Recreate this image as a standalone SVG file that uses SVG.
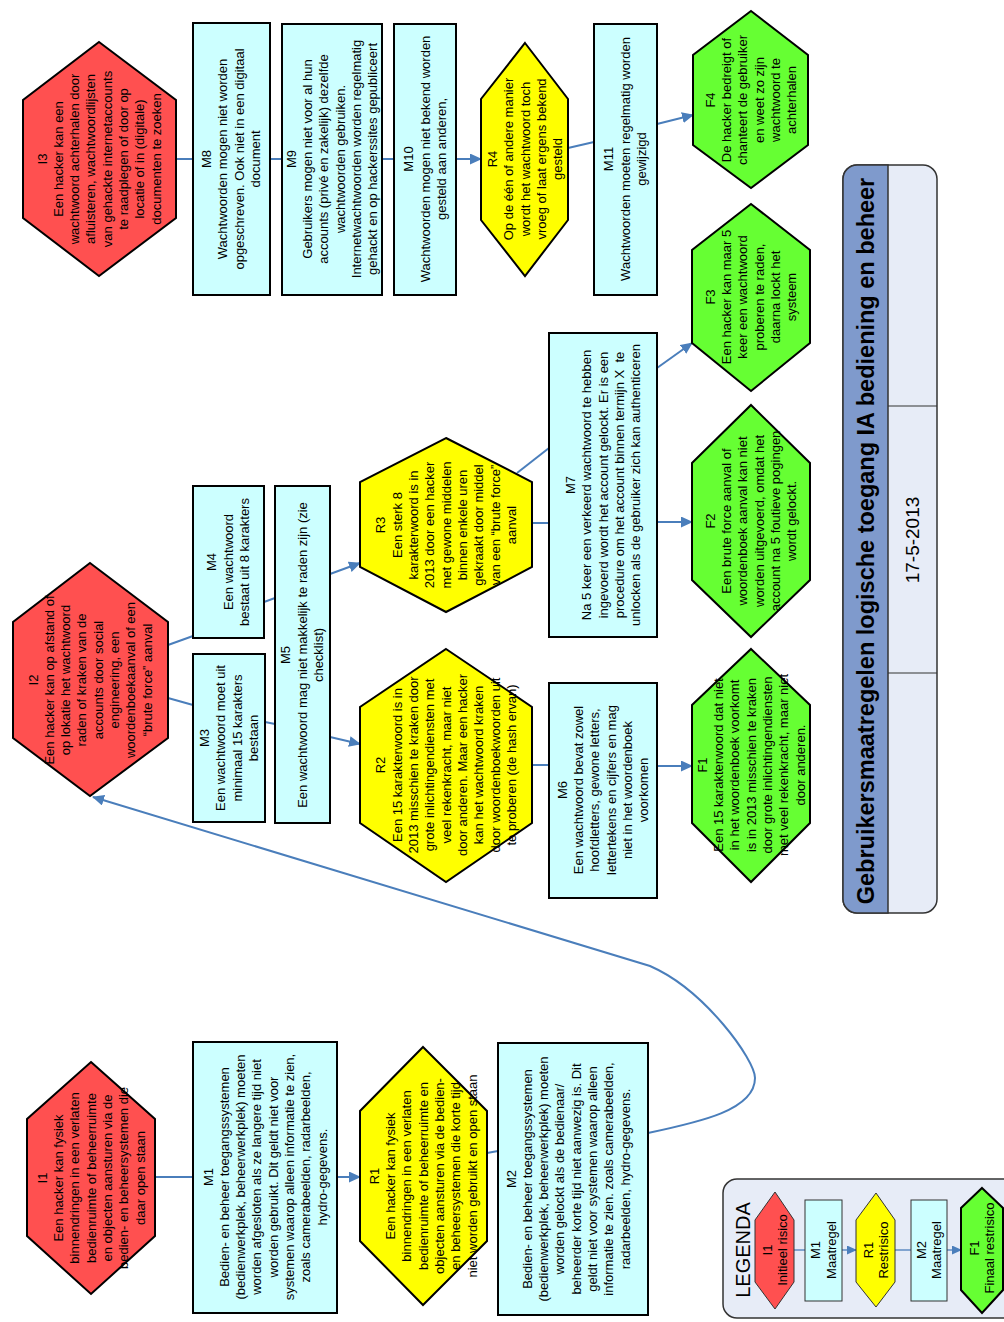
<svg xmlns="http://www.w3.org/2000/svg" width="1004" height="1322" viewBox="0 0 1004 1322">
  <defs>
    <marker id="arr" viewBox="0 0 12 11" refX="11" refY="5.5" markerWidth="12" markerHeight="11" markerUnits="userSpaceOnUse" orient="auto">
      <path d="M0,0 L12,5.5 L0,11 Z" fill="#4A7EBB"/>
    </marker>
    <marker id="arr-sm" viewBox="0 0 10 9" refX="9" refY="4.5" markerWidth="10" markerHeight="9" markerUnits="userSpaceOnUse" orient="auto">
      <path d="M0,0 L10,4.5 L0,9 Z" fill="#4A7EBB"/>
    </marker>
    <style>
      .box { fill: #CCFFFF; stroke: #000; stroke-width: 2; }
      .red { fill: #FF5050; stroke: #000; stroke-width: 2; }
      .yellow { fill: #FFFF00; stroke: #000; stroke-width: 2; }
      .green { fill: #66FF33; stroke: #000; stroke-width: 2; }
      .lg-box { fill: #CCFFFF; stroke: #333; stroke-width: 1; }
      .lg-red { fill: #FF5050; stroke: #333; stroke-width: 1; }
      .lg-yellow { fill: #FFFF00; stroke: #333; stroke-width: 1; }
      .lg-green { fill: #66FF33; stroke: #000; stroke-width: 2; }
      text { font-family: "Liberation Sans", Arial, sans-serif; fill: #000; text-anchor: middle; }
      .t { font-size: 13px; }
      .conn { fill: none; stroke: #4A7EBB; stroke-width: 2; }
      .conn-a { fill: none; stroke: #4A7EBB; stroke-width: 2; marker-end: url(#arr); }
      .lg-conn { fill: none; stroke: #4A7EBB; stroke-width: 1.3; }
      .lg-conn-a { fill: none; stroke: #4A7EBB; stroke-width: 1.3; marker-end: url(#arr-sm); }
    </style>
  </defs>

  <rect width="1004" height="1322" fill="#FFFFFF"/>

  <!-- title block -->
  <g id="title">
    <rect x="843" y="165" width="94" height="748" rx="14" fill="#E7ECF7" stroke="#333" stroke-width="1.5"/>
    <path d="M888,165 L857,165 A14,14 0 0 0 843,179 L843,899 A14,14 0 0 0 857,913 L888,913 Z" fill="#7F9ACC" stroke="#333" stroke-width="1.5"/>
    <line x1="888" y1="406" x2="937" y2="406" stroke="#333" stroke-width="1.2"/>
    <line x1="888" y1="673" x2="937" y2="673" stroke="#333" stroke-width="1.2"/>
    <text transform="translate(866,541) rotate(-90)" y="8.3" style="font-size:23.5px;font-weight:bold">Gebruikersmaatregelen logische toegang IA bediening en beheer</text>
    <text transform="translate(912,540) rotate(-90)" y="6.8" style="font-size:19px">17-5-2013</text>
  </g>

  <!-- connectors -->
  <g id="connectors">
    <line class="conn" x1="155" y1="1177" x2="193" y2="1177"/>
    <line class="conn-a" x1="337" y1="1177" x2="360" y2="1177"/>
    <line class="conn" x1="487" y1="1153" x2="498" y2="1151"/>
    <path class="conn-a" d="M648,1133 C700,1122 755,1110 755,1078 C755,1060 705,990 650,966 L93,797"/>
    <line class="conn" x1="168" y1="645" x2="193" y2="636"/>
    <line class="conn" x1="168" y1="698" x2="193" y2="705"/>
    <line class="conn" x1="265" y1="722" x2="275" y2="724"/>
    <line class="conn" x1="264" y1="602" x2="275" y2="598"/>
    <line class="conn-a" x1="330" y1="737" x2="360" y2="744"/>
    <line class="conn-a" x1="330" y1="574" x2="360" y2="563"/>
    <line class="conn" x1="532" y1="765" x2="549" y2="765"/>
    <line class="conn-a" x1="657" y1="766" x2="692" y2="766"/>
    <line class="conn" x1="532" y1="523" x2="549" y2="523"/>
    <line class="conn" x1="517" y1="473" x2="549" y2="448"/>
    <line class="conn-a" x1="657" y1="522" x2="692" y2="522"/>
    <line class="conn-a" x1="657" y1="368" x2="692" y2="343"/>
    <line class="conn" x1="176" y1="159" x2="193" y2="159"/>
    <line class="conn" x1="270" y1="159" x2="282" y2="159"/>
    <line class="conn" x1="382" y1="159" x2="394" y2="159"/>
    <line class="conn-a" x1="456" y1="159" x2="481" y2="159"/>
    <line class="conn" x1="568" y1="148" x2="594" y2="142"/>
    <line class="conn-a" x1="657" y1="124" x2="693" y2="115"/>
  </g>

  <!-- row 1: physical access -->
  <g id="I1">
    <polygon class="red" points="91,1062 155,1119 155,1236 91,1294 27,1236 27,1119"/>
    <text class="t" transform="translate(91,1178) rotate(-90)"><tspan x="0" y="-44.3">I1</tspan><tspan x="0" dy="16.3">Een hacker kan fysiek</tspan><tspan x="0" dy="16.3">binnendringen in een verlaten</tspan><tspan x="0" dy="16.3">bedienruimte of beheerruimte</tspan><tspan x="0" dy="16.3">en objecten aansturen via de</tspan><tspan x="0" dy="16.3">bedien- en beheersystemen die</tspan><tspan x="0" dy="16.3">daar open staan</tspan></text>
  </g>
  <g id="M1">
    <rect class="box" x="193" y="1042" width="144" height="271"/>
    <text class="t" transform="translate(265,1177) rotate(-90)"><tspan x="0" y="-52.45">M1</tspan><tspan x="0" dy="16.3">Bedien- en beheer toegangssystemen</tspan><tspan x="0" dy="16.3">(bedienwerkplek, beheerwerkplek) moeten</tspan><tspan x="0" dy="16.3">worden afgesloten als ze langere tijd niet</tspan><tspan x="0" dy="16.3">worden gebruikt. Dit geldt niet voor</tspan><tspan x="0" dy="16.3">systemen waarop alleen informatie te zien,</tspan><tspan x="0" dy="16.3">zoals camerabeelden, radarbeelden,</tspan><tspan x="0" dy="16.3">hydro-gegevens.</tspan></text>
  </g>
  <g id="R1">
    <polygon class="yellow" points="423,1047 487,1111 487,1241 423,1305 360,1241 360,1111"/>
    <text class="t" transform="translate(423,1176) rotate(-90)"><tspan x="0" y="-44.3">R1</tspan><tspan x="0" dy="16.3">Een hacker kan fysiek</tspan><tspan x="0" dy="16.3">binnendringen in een verlaten</tspan><tspan x="0" dy="16.3">bedienruimte of beheerruimte en</tspan><tspan x="0" dy="16.3">objecten aansturen via de bedien-</tspan><tspan x="0" dy="16.3">en beheersystemen die korte tijd</tspan><tspan x="0" dy="16.3">niet worden gebruikt en open staan</tspan></text>
  </g>
  <g id="M2">
    <rect class="box" x="498" y="1043" width="150" height="272"/>
    <text class="t" transform="translate(568,1179) rotate(-90)"><tspan x="0" y="-52.45">M2</tspan><tspan x="0" dy="16.3">Bedien- en beheer toegangssystemen</tspan><tspan x="0" dy="16.3">(bedienwerkplek, beheerwerkplek) moeten</tspan><tspan x="0" dy="16.3">worden gelockt als de bedienaar/</tspan><tspan x="0" dy="16.3">beheerder korte tijd niet aanwezig is. Dit</tspan><tspan x="0" dy="16.3">geldt niet voor systemen waarop alleen</tspan><tspan x="0" dy="16.3">informatie te zien. zoals camerabeelden,</tspan><tspan x="0" dy="16.3">radarbeelden, hydro-gegevens.</tspan></text>
  </g>

  <!-- row 2: guessing / cracking -->
  <g id="I2">
    <polygon class="red" points="90,563 168,622 168,738 90,796 13,738 13,622"/>
    <text class="t" transform="translate(90,680) rotate(-90)"><tspan x="0" y="-52.45">I2</tspan><tspan x="0" dy="16.3">Een hacker kan op afstand of</tspan><tspan x="0" dy="16.3">op lokatie het wachtwoord</tspan><tspan x="0" dy="16.3">raden of kraken van de</tspan><tspan x="0" dy="16.3">accounts door social</tspan><tspan x="0" dy="16.3">engineering, een</tspan><tspan x="0" dy="16.3">woordenboekaanval of een</tspan><tspan x="0" dy="16.3">“brute force” aanval</tspan></text>
  </g>
  <g id="M3">
    <rect class="box" x="193" y="654" width="72" height="168"/>
    <text class="t" transform="translate(229,738) rotate(-90)"><tspan x="0" y="-19.85">M3</tspan><tspan x="0" dy="16.3">Een wachtwoord moet uit</tspan><tspan x="0" dy="16.3">minimaal 15 karakters</tspan><tspan x="0" dy="16.3">bestaan</tspan></text>
  </g>
  <g id="M4">
    <rect class="box" x="193" y="486" width="71" height="152"/>
    <text class="t" transform="translate(228,562) rotate(-90)"><tspan x="0" y="-11.7">M4</tspan><tspan x="0" dy="16.3">Een wachtwoord</tspan><tspan x="0" dy="16.3">bestaat uit 8 karakters</tspan></text>
  </g>
  <g id="M5">
    <rect class="box" x="275" y="486" width="55" height="337"/>
    <text class="t" transform="translate(302,655) rotate(-90)"><tspan x="0" y="-11.7">M5</tspan><tspan x="0" dy="16.3">Een wachtwoord mag niet makkelijk te raden zijn (zie</tspan><tspan x="0" dy="16.3">checklist)</tspan></text>
  </g>
  <g id="R2">
    <polygon class="yellow" points="446,649 532,707 532,823 446,882 360,823 360,707"/>
    <text class="t" transform="translate(446,765) rotate(-90)"><tspan x="0" y="-60.6">R2</tspan><tspan x="0" dy="16.3">Een 15 karakterwoord is in</tspan><tspan x="0" dy="16.3">2013 misschien te kraken door</tspan><tspan x="0" dy="16.3">grote inlichtingendiensten met</tspan><tspan x="0" dy="16.3">veel rekenkracht, maar niet</tspan><tspan x="0" dy="16.3">door anderen. Maar een hacker</tspan><tspan x="0" dy="16.3">kan het wachtwoord kraken</tspan><tspan x="0" dy="16.3">door woordenboekwoorden uit</tspan><tspan x="0" dy="16.3">te proberen (de hash ervan)</tspan></text>
  </g>
  <g id="R3">
    <polygon class="yellow" points="446,438 532,482 532,567 446,612 360,567 360,482"/>
    <text class="t" transform="translate(446,525) rotate(-90)"><tspan x="0" y="-60.6">R3</tspan><tspan x="0" dy="16.3">Een sterk 8</tspan><tspan x="0" dy="16.3">karakterwoord is in</tspan><tspan x="0" dy="16.3">2013 door een hacker</tspan><tspan x="0" dy="16.3">met gewone middelen</tspan><tspan x="0" dy="16.3">binnen enkele uren</tspan><tspan x="0" dy="16.3">gekraakt door middel</tspan><tspan x="0" dy="16.3">van een “brute force”</tspan><tspan x="0" dy="16.3">aanval</tspan></text>
  </g>
  <g id="M6">
    <rect class="box" x="549" y="683" width="108" height="215"/>
    <text class="t" transform="translate(603,790) rotate(-90)"><tspan x="0" y="-36.15">M6</tspan><tspan x="0" dy="16.3">Een wachtwoord bevat zowel</tspan><tspan x="0" dy="16.3">hoofdletters, gewone letters,</tspan><tspan x="0" dy="16.3">lettertekens en cijfers en mag</tspan><tspan x="0" dy="16.3">niet in het woordenboek</tspan><tspan x="0" dy="16.3">voorkomen</tspan></text>
  </g>
  <g id="M7">
    <rect class="box" x="549" y="333" width="108" height="304"/>
    <text class="t" transform="translate(603,485) rotate(-90)"><tspan x="0" y="-28">M7</tspan><tspan x="0" dy="16.3">Na 5 keer een verkeerd wachtwoord te hebben</tspan><tspan x="0" dy="16.3">ingevoerd wordt het account gelockt. Er is een</tspan><tspan x="0" dy="16.3" xml:space="preserve">procedure om het account binnen termijn X  te</tspan><tspan x="0" dy="16.3">unlocken als de gebruiker zich kan authenticeren</tspan></text>
  </g>
  <g id="F1">
    <polygon class="green" points="751,649 810,705 810,823 751,882 692,823 692,705"/>
    <text class="t" transform="translate(751,765) rotate(-90)"><tspan x="0" y="-44.3">F1</tspan><tspan x="0" dy="16.3">Een 15 karakterwoord dat niet</tspan><tspan x="0" dy="16.3">in het woordenboek voorkomt</tspan><tspan x="0" dy="16.3">is in 2013 misschien te kraken</tspan><tspan x="0" dy="16.3">door grote inlichtingendiensten</tspan><tspan x="0" dy="16.3">met veel rekenkracht, maar niet</tspan><tspan x="0" dy="16.3">door anderen.</tspan></text>
  </g>
  <g id="F2">
    <polygon class="green" points="751,405 810,463 810,580 751,637 692,580 692,463"/>
    <text class="t" transform="translate(751,521) rotate(-90)"><tspan x="0" y="-36.15">F2</tspan><tspan x="0" dy="16.3">Een brute force aanval of</tspan><tspan x="0" dy="16.3">woordenboek aanval kan niet</tspan><tspan x="0" dy="16.3">worden uitgevoerd, omdat het</tspan><tspan x="0" dy="16.3">account na 5 foutieve pogingen</tspan><tspan x="0" dy="16.3">wordt gelockt.</tspan></text>
  </g>
  <g id="F3">
    <polygon class="green" points="751,204 810,250 810,343 751,391 692,343 692,250"/>
    <text class="t" transform="translate(751,297) rotate(-90)"><tspan x="0" y="-36.15">F3</tspan><tspan x="0" dy="16.3">Een hacker kan maar 5</tspan><tspan x="0" dy="16.3">keer een wachtwoord</tspan><tspan x="0" dy="16.3">proberen te raden,</tspan><tspan x="0" dy="16.3">daarna lockt het</tspan><tspan x="0" dy="16.3">systeem</tspan></text>
  </g>

  <!-- row 3: disclosure -->
  <g id="I3">
    <polygon class="red" points="99,42 176,100 176,218 99,276 23,218 23,100"/>
    <text class="t" transform="translate(99,159) rotate(-90)"><tspan x="0" y="-52.45">I3</tspan><tspan x="0" dy="16.3">Een hacker kan een</tspan><tspan x="0" dy="16.3">wachtwoord achterhalen door</tspan><tspan x="0" dy="16.3">afluisteren, wachtwoordlijsten</tspan><tspan x="0" dy="16.3">van gehackte internetaccounts</tspan><tspan x="0" dy="16.3">te raadplegen of door op</tspan><tspan x="0" dy="16.3">locatie of in (digitale)</tspan><tspan x="0" dy="16.3">documenten te zoeken</tspan></text>
  </g>
  <g id="M8">
    <rect class="box" x="193" y="23" width="77" height="272"/>
    <text class="t" transform="translate(231,159) rotate(-90)"><tspan x="0" y="-19.85">M8</tspan><tspan x="0" dy="16.3">Wachtwoorden mogen niet worden</tspan><tspan x="0" dy="16.3">opgeschreven. Ook niet in een digitaal</tspan><tspan x="0" dy="16.3">document</tspan></text>
  </g>
  <g id="M9">
    <rect class="box" x="282" y="24" width="100" height="271"/>
    <text class="t" transform="translate(332,159) rotate(-90)"><tspan x="0" y="-36.15">M9</tspan><tspan x="0" dy="16.3">Gebruikers mogen niet voor al hun</tspan><tspan x="0" dy="16.3">accounts (privé en zakelijk) dezelfde</tspan><tspan x="0" dy="16.3">wachtwoorden gebruiken.</tspan><tspan x="0" dy="16.3">Internetwachtwoorden worden regelmatig</tspan><tspan x="0" dy="16.3">gehackt en op hackerssites gepubliceert</tspan></text>
  </g>
  <g id="M10">
    <rect class="box" x="394" y="24" width="62" height="271"/>
    <text class="t" transform="translate(425,159) rotate(-90)"><tspan x="0" y="-11.7">M10</tspan><tspan x="0" dy="16.3">Wachtwoorden mogen niet bekend worden</tspan><tspan x="0" dy="16.3">gesteld aan anderen,</tspan></text>
  </g>
  <g id="R4">
    <polygon class="yellow" points="525,43 568,99 568,220 525,276 481,220 481,99"/>
    <text class="t" transform="translate(525,159) rotate(-90)"><tspan x="0" y="-28">R4</tspan><tspan x="0" dy="16.3">Op de één of andere manier</tspan><tspan x="0" dy="16.3">wordt het wachtwoord toch</tspan><tspan x="0" dy="16.3">vroeg of laat ergens bekend</tspan><tspan x="0" dy="16.3">gesteld</tspan></text>
  </g>
  <g id="M11">
    <rect class="box" x="594" y="24" width="63" height="271"/>
    <text class="t" transform="translate(625,159) rotate(-90)"><tspan x="0" y="-11.7">M11</tspan><tspan x="0" dy="16.3">Wachtwoorden moeten regelmatig worden</tspan><tspan x="0" dy="16.3">gewijzigd</tspan></text>
  </g>
  <g id="F4">
    <polygon class="green" points="751,11 808,55 808,145 751,188 693,145 693,55"/>
    <text class="t" transform="translate(751,100) rotate(-90)"><tspan x="0" y="-36.15">F4</tspan><tspan x="0" dy="16.3">De hacker bedreigt of</tspan><tspan x="0" dy="16.3">chanteert de gebruiker</tspan><tspan x="0" dy="16.3">en weet zo zijn</tspan><tspan x="0" dy="16.3">wachtwoord te</tspan><tspan x="0" dy="16.3">achterhalen</tspan></text>
  </g>

  <!-- legend -->
  <g id="legend">
    <rect x="723" y="1179" width="300" height="139" rx="14" fill="#E7ECF7" stroke="#333" stroke-width="1.5"/>
    <text transform="translate(743,1250) rotate(-90)" y="7" style="font-size:20px">LEGENDA</text>
    <line class="lg-conn" x1="794" y1="1250" x2="805" y2="1250"/>
    <line class="lg-conn-a" x1="842" y1="1250" x2="856" y2="1250"/>
    <line class="lg-conn" x1="895" y1="1250" x2="911" y2="1250"/>
    <line class="lg-conn-a" x1="947" y1="1250" x2="961" y2="1250"/>
    <g id="legend-I1">
      <polygon class="lg-red" points="775,1192 794,1220 794,1282 775,1309 755,1282 755,1220"/>
      <text class="t" transform="translate(775,1250) rotate(-90)"><tspan x="0" y="-3.1">I1</tspan><tspan x="0" dy="15.5">Initieel risico</tspan></text>
    </g>
    <g id="legend-M1">
      <rect class="lg-box" x="805" y="1200" width="37" height="101"/>
      <text class="t" transform="translate(823.5,1250) rotate(-90)"><tspan x="0" y="-3.1">M1</tspan><tspan x="0" dy="15.5">Maatregel</tspan></text>
    </g>
    <g id="legend-R1">
      <polygon class="lg-yellow" points="876,1193 895,1220 895,1282 876,1307 856,1282 856,1220"/>
      <text class="t" transform="translate(876,1250) rotate(-90)"><tspan x="0" y="-3.1">R1</tspan><tspan x="0" dy="15.5">Restrisico</tspan></text>
    </g>
    <g id="legend-M2">
      <rect class="lg-box" x="911" y="1200" width="36" height="101"/>
      <text class="t" transform="translate(929,1250) rotate(-90)"><tspan x="0" y="-3.1">M2</tspan><tspan x="0" dy="15.5">Maatregel</tspan></text>
    </g>
    <g id="legend-F1">
      <polygon class="lg-green" points="982,1188 1003,1208 1003,1290 982,1313 961,1290 961,1208"/>
      <text class="t" transform="translate(982,1248) rotate(-90)"><tspan x="0" y="-3.1">F1</tspan><tspan x="0" dy="15.5">Finaal restrisico</tspan></text>
    </g>
  </g>
</svg>
